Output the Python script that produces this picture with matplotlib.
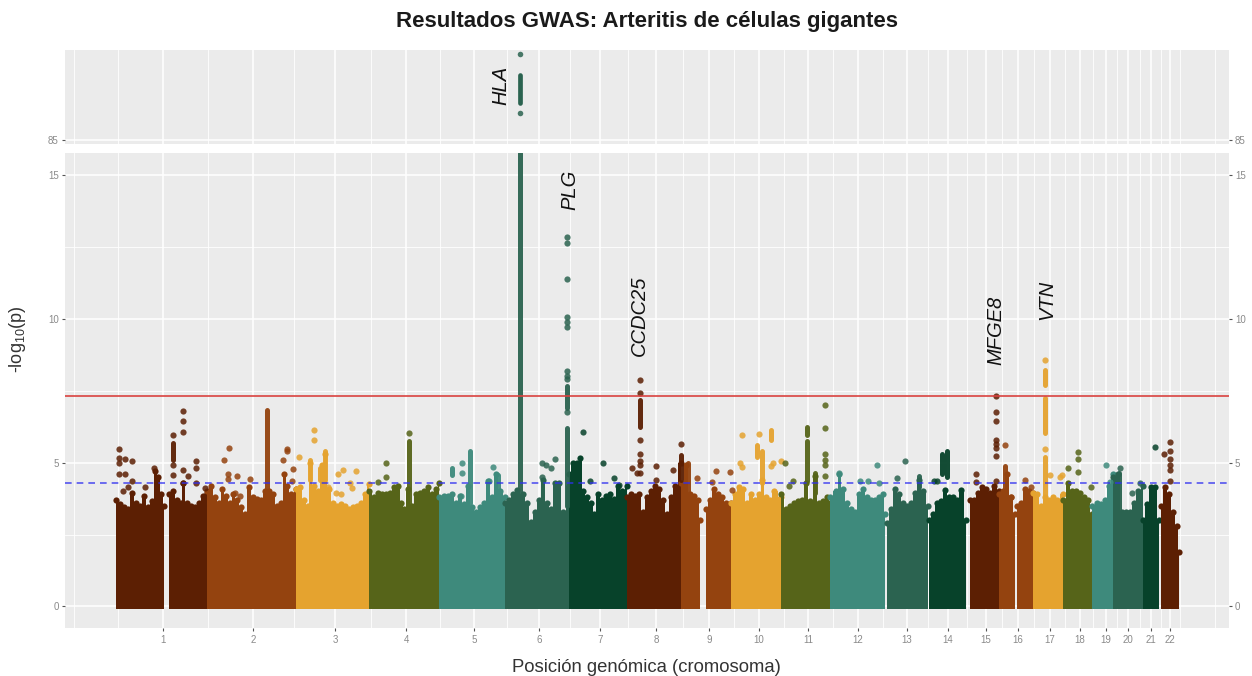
import matplotlib
matplotlib.use('Agg')
import matplotlib.pyplot as plt

plt.rcParams['font.family'] = ['Liberation Sans', 'DejaVu Sans']
plt.rcParams['mathtext.default'] = 'regular'

# x axis is position along the genome
chrom_labels = [str(i) for i in range(1, 23)]
chrom_ticks = [163, 253, 335, 406, 474, 539, 600, 656, 709, 759, 808, 858,
               907, 948, 986, 1018, 1050, 1080, 1106, 1128, 1151, 1170]
minor_x = [74, 118, 208, 294, 370.5, 440, 506.5, 569.5, 628, 682.5, 734, 783.5, 833,
           882.5, 927.5, 967, 1002, 1034, 1065, 1093, 1117, 1139.5, 1160.5, 1180, 1215]

palette = ['#5c1f03', '#94430f', '#e5a32f', '#566419', '#3e8a7c', '#2b6350', '#07422a']

# top of the solid block of points for each chromosome: (position, -log10 p)
body_1a = [(116, 3.7), (120, 3.55), (124, 3.45), (128, 3.4), (132, 3.95), (136, 3.6), (140, 3.5),
           (144, 3.85), (148, 3.45), (152, 3.65), (155, 4.7), (158, 4.5), (161, 3.9), (164, 3.5)]
body_1b = [(169, 3.9), (173, 4.0), (177, 3.7), (181, 3.6), (183, 4.3), (187, 3.6), (191, 3.5),
           (195, 3.45), (199, 3.6), (203, 3.85), (207, 3.95)]
body_2 = [(207, 4.0), (211, 4.2), (215, 3.8), (219, 3.6), (222, 4.1), (226, 3.85), (230, 3.6),
          (233, 3.9), (237, 3.7), (241, 3.45), (245, 3.2), (249, 4.15), (253, 3.8), (257, 3.75),
          (261, 3.7), (265, 4.0), (269, 4.0), (273, 3.9), (277, 3.5), (281, 3.6), (284, 4.6),
          (287, 4.2), (291, 3.9), (296, 4.1)]
body_3 = [(296, 4.1), (300, 4.15), (304, 3.7), (308, 3.5), (310, 5.0), (314, 4.2), (318, 4.0),
          (322, 4.9), (325, 5.3), (329, 4.1), (333, 3.6), (337, 3.5), (341, 3.55), (345, 3.5),
          (349, 3.4), (353, 3.45), (357, 3.5), (361, 3.6), (365, 3.9), (369, 4.25)]
body_4 = [(369, 4.0), (374, 3.8), (378, 3.95), (382, 3.9), (386, 3.9), (390, 3.95), (394, 4.15),
          (398, 4.2), (401, 3.6), (404, 3.4), (408, 4.1), (412, 3.5), (416, 3.9), (420, 3.95),
          (424, 4.0), (428, 4.15), (432, 3.9), (436, 4.1), (439, 4.3)]
body_5 = [(439, 3.8), (444, 3.85), (448, 3.85), (452, 3.9), (456, 3.6), (460, 3.85), (464, 3.55),
          (468, 4.2), (472, 3.45), (476, 3.3), (480, 3.45), (484, 3.6), (488, 4.35), (492, 3.8),
          (496, 4.6), (500, 4.0), (505, 3.8)]
body_6 = [(505, 3.6), (509, 3.7), (513, 3.9), (517, 4.05), (523, 3.9), (527, 3.6), (531, 2.95),
          (535, 3.3), (539, 3.7), (543, 4.4), (547, 3.6), (551, 3.4), (555, 4.3), (559, 4.3),
          (563, 3.3), (569, 4.2)]
body_7 = [(569, 4.6), (573, 5.0), (577, 5.0), (580, 5.15), (583, 4.0), (587, 3.8), (591, 3.6),
          (594, 3.2), (598, 3.9), (602, 3.7), (606, 3.85), (610, 3.9), (614, 3.75), (618, 4.2),
          (622, 4.0), (627, 4.2)]
body_8 = [(627, 3.8), (631, 3.9), (635, 3.85), (639, 3.9), (643, 3.3), (647, 3.8), (651, 4.0),
          (655, 4.2), (659, 4.1), (663, 3.7), (667, 3.2), (671, 3.8), (675, 4.2), (681, 5.0)]
body_9a = [(681, 4.3), (686, 4.9), (690, 3.9), (694, 3.85), (698, 3.7), (700, 3.0)]
body_9b = [(706, 3.4), (710, 3.7), (714, 4.1), (718, 3.9), (722, 3.8), (726, 3.6), (731, 3.6)]
body_10 = [(731, 3.6), (735, 3.9), (739, 4.15), (743, 4.1), (747, 3.6), (751, 3.9), (755, 3.7),
           (759, 3.9), (762, 4.4), (766, 3.8), (770, 3.7), (774, 4.0), (781, 3.8)]
body_11 = [(781, 3.9), (786, 3.4), (790, 3.5), (794, 3.6), (798, 3.65), (802, 3.7), (806, 4.3),
           (810, 3.65), (815, 4.55), (819, 3.6), (823, 3.65), (827, 3.8), (830, 3.6)]
body_12 = [(830, 3.8), (836, 4.0), (839, 4.6), (843, 4.1), (847, 3.6), (851, 3.4), (855, 3.3),
           (859, 3.9), (863, 4.1), (867, 3.8), (871, 3.7), (875, 3.7), (879, 3.8), (883, 3.9),
           (885, 3.2)]
body_13 = [(887, 2.9), (891, 3.4), (895, 4.1), (899, 3.9), (903, 3.6), (907, 3.5), (911, 3.6),
           (915, 3.95), (919, 4.4), (923, 4.0), (928, 3.5)]
body_14 = [(929, 3.0), (933, 3.2), (937, 3.6), (941, 3.65), (945, 4.05), (949, 3.8), (953, 3.8),
           (957, 3.7), (961, 4.05), (966, 3.0)]
body_15 = [(970, 3.7), (974, 3.7), (978, 3.95), (982, 4.15), (986, 4.1), (990, 3.95), (994, 4.2),
           (999, 4.0)]
body_16a = [(999, 3.9), (1003, 4.0), (1007, 4.6), (1011, 3.8), (1015, 3.2)]
body_16b = [(1017, 3.5), (1021, 3.6), (1025, 4.1), (1029, 4.0), (1033, 3.95)]
body_17 = [(1033, 3.95), (1037, 3.9), (1041, 3.5), (1045, 3.8), (1049, 3.7), (1053, 3.8),
           (1057, 3.7), (1063, 3.9)]
body_18 = [(1063, 3.7), (1068, 4.3), (1072, 4.0), (1076, 4.0), (1080, 3.95), (1084, 3.8),
           (1088, 3.7), (1092, 3.2)]
body_19 = [(1092, 3.5), (1097, 3.6), (1101, 3.55), (1105, 3.7), (1109, 4.2), (1113, 4.6)]
body_20 = [(1113, 4.5), (1118, 4.6), (1122, 3.3), (1126, 3.3), (1130, 3.3), (1134, 3.6),
           (1138, 4.0), (1143, 4.2)]
body_21 = [(1143, 3.0), (1147, 3.55), (1151, 4.15), (1155, 4.15), (1159, 3.0)]
body_22 = [(1161, 3.5), (1165, 4.15), (1169, 3.9), (1173, 3.3), (1177, 2.8), (1179, 1.9)]

bodies = [[body_1a, body_1b], [body_2], [body_3], [body_4], [body_5], [body_6], [body_7],
          [body_8], [body_9a, body_9b], [body_10], [body_11], [body_12], [body_13], [body_14],
          [body_15], [body_16a, body_16b], [body_17], [body_18], [body_19], [body_20],
          [body_21], [body_22]]

# tight runs of SNPs: chromosome, position, low, high
run_chrom = [1, 2, 3, 3, 3, 4, 5, 5, 5, 6, 6, 6, 8, 8, 9, 10, 10, 10, 11, 11, 11, 13, 14, 14,
             16, 17, 17, 17, 20]
run_x = [172.7, 266.7, 310, 325, 320, 409, 452.3, 470, 498.3, 519.5, 567, 567, 640, 680.7, 688.3,
         770.7, 757.3, 761.7, 806.7, 806.7, 815, 919.3, 947, 942, 1005.3, 1044.7, 1044.7, 1044.7,
         1118.7]
run_lo = [5.1, 3.5, 4.4, 4.4, 4.4, 3.5, 4.58, 3.6, 3.9, 3.0, 3.5, 6.9, 6.25, 4.4, 4.0,
          5.79, 5.21, 4.3, 5.97, 4.35, 3.94, 4.17, 4.5, 4.6, 4.06, 6.03, 7.7, 3.5, 3.36]
run_hi = [5.68, 6.84, 5.1, 5.39, 4.8, 5.75, 4.8, 5.39, 4.58, 15.75, 6.2, 7.65, 7.18, 5.27, 5.0,
          6.14, 5.62, 5.39, 6.25, 5.74, 4.63, 4.52, 5.42, 5.3, 4.89, 7.25, 8.22, 5.2, 4.63]

# single points above the block
dots_1 = [(119.3, 5.47), (119.3, 5.16), (119.3, 5.0), (125, 5.13), (132, 5.06), (119.3, 4.61),
          (125, 4.59), (132, 4.37), (122.7, 4.0), (128.3, 4.17), (145, 4.15), (154, 4.81),
          (172.7, 5.97), (172.7, 4.92), (172.7, 4.58), (182.7, 6.78), (182.7, 6.43), (182.7, 6.08),
          (182.7, 4.75), (188.3, 4.55), (195.7, 5.06), (195.7, 4.83), (195.7, 4.29), (205, 4.11),
          (182.7, 4.29)]
dots_2 = [(228.7, 5.5), (224.3, 5.1), (228, 4.61), (228, 4.44), (237, 4.54), (250, 4.44),
          (283.3, 5.1), (286.7, 5.47), (286.7, 5.39), (292.7, 4.79), (291.7, 4.37), (235, 3.94),
          (240, 3.85)]
dots_3 = [(299, 5.18), (314, 6.14), (314, 5.79), (343.3, 4.75), (338.3, 4.6), (356, 4.72),
          (350, 4.29), (351.7, 4.11), (328.3, 4.15), (336, 3.95), (341, 3.9)]
dots_4 = [(377.7, 4.32), (386, 4.98), (386, 4.5), (409, 6.03)]
dots_5 = [(462.3, 4.98), (462.3, 4.63), (492.7, 4.84), (489.3, 4.35), (461, 3.85)]
dots_6 = [(541.7, 4.98), (546, 4.9), (551, 4.81), (555, 5.13), (541.7, 4.5),
          (567, 12.84), (567, 12.63), (567, 11.38), (567, 10.06), (567, 9.88), (567, 9.7),
          (567, 8.2), (567, 8.0), (567, 7.9), (567, 6.75)]
dots_7 = [(583.3, 6.08), (602.7, 5.0), (590, 4.35), (614.3, 4.48), (619, 4.23)]
dots_8 = [(631.7, 4.81), (636.7, 4.63), (656, 4.87), (656, 4.4), (673.3, 4.75), (680.7, 5.64),
          (640, 7.88), (640, 7.41), (640, 5.79), (640, 5.3), (640, 5.04), (640, 4.92), (640, 4.63)]
dots_9 = [(696.7, 4.48), (711.7, 4.32), (716, 4.72), (730, 4.67), (731.7, 4.06)]
dots_10 = [(742.3, 5.96), (759, 5.98), (740, 4.98), (742.3, 4.84), (780.7, 5.04), (773.3, 4.98),
           (770.7, 4.89)]
dots_11 = [(785, 4.98), (824.7, 6.99), (824.7, 6.2), (824.7, 5.3), (824.7, 5.1), (824.7, 4.92),
           (824.7, 4.55), (792.7, 4.37), (789, 4.19)]
dots_12 = [(877, 4.92), (839.3, 4.63), (860.3, 4.35), (867.7, 4.35), (879.3, 4.29)]
dots_13 = [(905.3, 5.06), (897, 4.48)]
dots_14 = [(937, 4.37), (934, 4.35)]
dots_15 = [(976.3, 4.6), (976.3, 4.31), (996.3, 7.3), (996.3, 6.75), (996.3, 6.44), (996.3, 5.79),
           (996.3, 5.65), (996.3, 5.5), (996.3, 5.24), (996.3, 4.35)]
dots_16 = [(1005.3, 5.6), (1011, 3.8), (1025.3, 4.38), (1031, 4.17)]
dots_17 = [(1044.7, 8.57), (1044.7, 5.47), (1050.3, 4.58), (1062, 4.58), (1060, 4.5)]
dots_18 = [(1078, 5.37), (1078, 5.12), (1078, 4.67), (1068, 4.81), (1091.3, 4.17)]
dots_19 = [(1106, 4.9), (1110.3, 4.31)]
dots_20 = [(1120.3, 4.83), (1140.3, 4.29), (1132, 3.94)]
dots_21 = [(1155.3, 5.53)]
dots_22 = [(1164.3, 5.3), (1170, 5.71), (1170, 5.39), (1170, 5.13), (1170, 4.92), (1170, 4.73),
           (1170, 4.37)]

dots = [dots_1, dots_2, dots_3, dots_4, dots_5, dots_6, dots_7, dots_8, dots_9, dots_10, dots_11,
        dots_12, dots_13, dots_14, dots_15, dots_16, dots_17, dots_18, dots_19, dots_20, dots_21,
        dots_22]

# HLA points on the upper (broken) part of the axis
hla_x = 519.5
hla_dots = [110.8, 93.1]
hla_run = (96.1, 104.5)

genome_wide = 7.3
suggestive = 4.3

genes = ['PLG', 'CCDC25', 'MFGE8', 'VTN']
gene_x = [570, 639, 996, 1047]
gene_y = [13.78, 8.7, 8.4, 9.96]

W, H = 1252, 676
fig = plt.figure(figsize=(W / 100, H / 100), dpi=100)


def make_axes(top_px, bottom_px):
    return fig.add_axes([65 / W, 1 - bottom_px / H, (1228.7 - 65) / W, (bottom_px - top_px) / H])


ax = make_axes(153, 627.7)
ax_top = make_axes(50, 144)

for a in (ax, ax_top):
    a.set_facecolor('#ebebeb')
    a.set_axisbelow(True)
    a.set_xlim(65, 1228.7)
    for s in a.spines.values():
        s.set_visible(False)
    a.set_xticks(chrom_ticks)
    a.set_xticks(minor_x, minor=True)
    a.grid(True, which='major', color='white', lw=1.1)
    a.grid(True, which='minor', color='white', lw=0.6)
    a.tick_params(which='minor', length=0)
    a.tick_params(axis='y', which='major', left=True, right=True, labelright=True,
                  length=2.5, width=0.8, color='#555555', labelsize=7, labelcolor='#8a8a8a', pad=2)

ax.set_ylim(-0.737, 15.76)
ax.set_yticks([0, 5, 10, 15])
ax.set_yticks([2.5, 7.5, 12.5], minor=True)
ax.tick_params(axis='x', which='major', length=2.5, width=0.8, color='#555555',
               labelsize=7, labelcolor='#8a8a8a', pad=3)
ax.set_xticklabels(chrom_labels)

ax_top.set_ylim(83.8, 112)
ax_top.set_yticks([85])
ax_top.tick_params(axis='x', which='major', length=0, labelbottom=False)

for i, segments in enumerate(bodies):
    col = palette[i % 7]
    for seg in segments:
        xs = [p[0] for p in seg]
        ys = [p[1] for p in seg]
        ax.fill_between(xs, -0.07, ys, step='mid', color=col, lw=0, zorder=2)
        ax.scatter(xs, ys, s=20, color=col, lw=0, zorder=2)

for c, x, lo, hi in zip(run_chrom, run_x, run_lo, run_hi):
    ax.vlines(x, lo, hi, color=palette[(c - 1) % 7], lw=3.6, capstyle='round', alpha=0.95, zorder=3)

for i, d in enumerate(dots):
    ax.scatter([p[0] for p in d], [p[1] for p in d], s=20, color=palette[i % 7], lw=0,
               alpha=0.85, zorder=3)

ax_top.vlines(hla_x, hla_run[0], hla_run[1], color=palette[5], lw=3.4, capstyle='round', zorder=3)
ax_top.scatter([hla_x] * len(hla_dots), hla_dots, s=16, color=palette[5], lw=0, alpha=0.85, zorder=3)

ax.axhline(genome_wide, color='#d9413f', lw=1.4, alpha=0.85, zorder=4)
ax.axhline(suggestive, color='#2f2ff0', lw=1.2, alpha=0.8, ls=(0, (4, 3)), zorder=4)

for g, x, y in zip(genes, gene_x, gene_y):
    ax.text(x, y, g, rotation=90, style='italic', fontsize=14.5, color='#111111',
            ha='center', va='bottom', zorder=5)
ax_top.text(501, 95.5, 'HLA', rotation=90, style='italic', fontsize=14.5, color='#111111',
            ha='center', va='bottom', zorder=5)

fig.text(647 / W, 1 - 22 / H, 'Resultados GWAS: Arteritis de células gigantes', fontsize=16,
         fontweight='bold', color='#1a1a1a', ha='center', va='center')
fig.text(646 / W, 1 - 667 / H, 'Posición genómica (cromosoma)', fontsize=13.3, color='#333333',
         ha='center', va='center')
fig.text(17 / W, 1 - 339 / H, '-log$_{10}$(p)', fontsize=13, color='#333333', rotation=90,
         ha='center', va='center')

fig.savefig('out.png', dpi=100)
